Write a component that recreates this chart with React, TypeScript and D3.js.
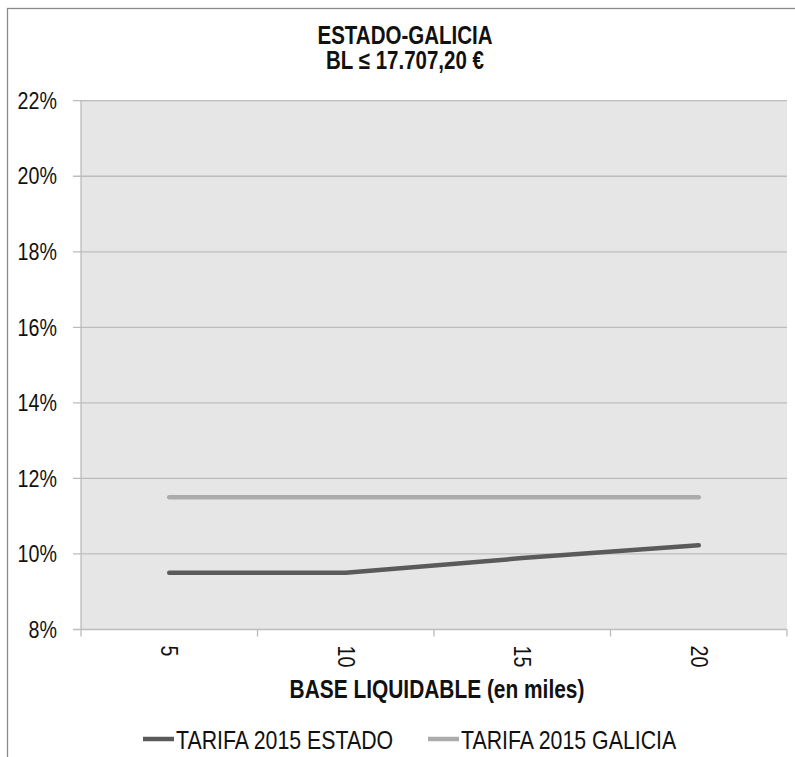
import React from "react";
import * as d3 from "d3";

// Base liquidable (thousands of euros) and average tax rates
const categories = ["5", "10", "15", "20"];
const estado = [0.095, 0.095, 0.0989, 0.1023];
const galicia = [0.115, 0.115, 0.115, 0.115];
const yTicks = [0.08, 0.1, 0.12, 0.14, 0.16, 0.18, 0.2, 0.22];

const seriesList = [
  { name: "TARIFA 2015 ESTADO", values: estado, color: "#5a5a5a" },
  { name: "TARIFA 2015 GALICIA", values: galicia, color: "#ababab" },
];

const W = 795;
const H = 757;
const FONT = "'Liberation Sans', Arial, sans-serif";
// horizontal squeeze giving a narrow face
const NARROW = 0.82;

type NTextProps = {
  x: number;
  y: number;
  size: number;
  anchor?: "start" | "middle" | "end";
  bold?: boolean;
  rotate?: number;
  baseline?: string;
  children: React.ReactNode;
};

function NText({ x, y, size, anchor = "start", bold, rotate = 0, baseline, children }: NTextProps) {
  return (
    <text
      transform={`translate(${x},${y}) rotate(${rotate}) scale(${NARROW},1)`}
      textAnchor={anchor}
      dominantBaseline={baseline}
      fontSize={size}
      fontWeight={bold ? "bold" : "normal"}
      fill="#111"
    >
      {children}
    </text>
  );
}

export default function App() {
  const left = 81;
  const right = 787;
  const top = 100.7;
  const bottom = 629.5;

  const x = d3.scaleBand<string>().domain(categories).range([left, right]).padding(0);
  const y = d3.scaleLinear().domain([0.08, 0.22]).range([bottom, top]);
  const cx = (c: string) => (x(c) ?? 0) + x.bandwidth() / 2;

  const line = d3
    .line<number>()
    .x((_, i) => cx(categories[i]))
    .y((v) => y(v));

  const boundaries = [...categories.map((c) => x(c) ?? 0), right];

  return (
    <svg
      width={W}
      height={H}
      style={{ position: "absolute", left: 0, top: 0, background: "#fff" }}
      fontFamily={FONT}
    >
      {/* outer chart frame */}
      <rect x={7.5} y={8.5} width={W + 20} height={H + 20} fill="#fff" stroke="#8a8a8a" strokeWidth={1.3} />

      {/* title */}
      <NText x={405} y={43.5} size={25} anchor="middle" bold>
        ESTADO-GALICIA
      </NText>
      <NText x={405} y={68.5} size={25} anchor="middle" bold>
        BL ≤ 17.707,20 €
      </NText>

      {/* plot background */}
      <rect x={left} y={top} width={right - left} height={bottom - top} fill="#e6e6e6" />

      {/* horizontal gridlines with left tick marks */}
      {yTicks.map((t) => (
        <g key={t}>
          <line x1={73} x2={right} y1={y(t)} y2={y(t)} stroke="#bcbcbc" strokeWidth={1.3} />
          <NText x={57} y={y(t)} size={24} anchor="end" baseline="central">
            {`${Math.round(t * 100)}%`}
          </NText>
        </g>
      ))}

      {/* y axis line */}
      <line x1={left} x2={left} y1={top} y2={bottom} stroke="#bcbcbc" strokeWidth={1.3} />

      {/* x axis tick marks at category boundaries */}
      {boundaries.map((b, i) => (
        <line key={i} x1={b} x2={b} y1={bottom} y2={bottom + 7} stroke="#bcbcbc" strokeWidth={1.3} />
      ))}

      {/* rotated category labels */}
      {categories.map((c) => (
        <NText key={c} x={cx(c)} y={bottom + 16} size={24} rotate={90} baseline="central">
          {c}
        </NText>
      ))}

      {/* x axis title */}
      <NText x={437} y={698} size={25.5} anchor="middle" bold>
        BASE LIQUIDABLE (en miles)
      </NText>

      {/* series lines */}
      {seriesList
        .slice()
        .reverse()
        .map((s) => (
          <path
            key={s.name}
            d={line(s.values) ?? ""}
            fill="none"
            stroke={s.color}
            strokeWidth={4.5}
            strokeLinecap="round"
            strokeLinejoin="round"
          />
        ))}

      {/* legend */}
      {seriesList.map((s, i) => {
        const lx = i === 0 ? 143 : 428;
        return (
          <g key={s.name}>
            <line x1={lx} x2={lx + 31} y1={739} y2={739} stroke={s.color} strokeWidth={4.5} />
            <NText x={lx + 33} y={748.5} size={26}>
              {s.name}
            </NText>
          </g>
        );
      })}
    </svg>
  );
}
